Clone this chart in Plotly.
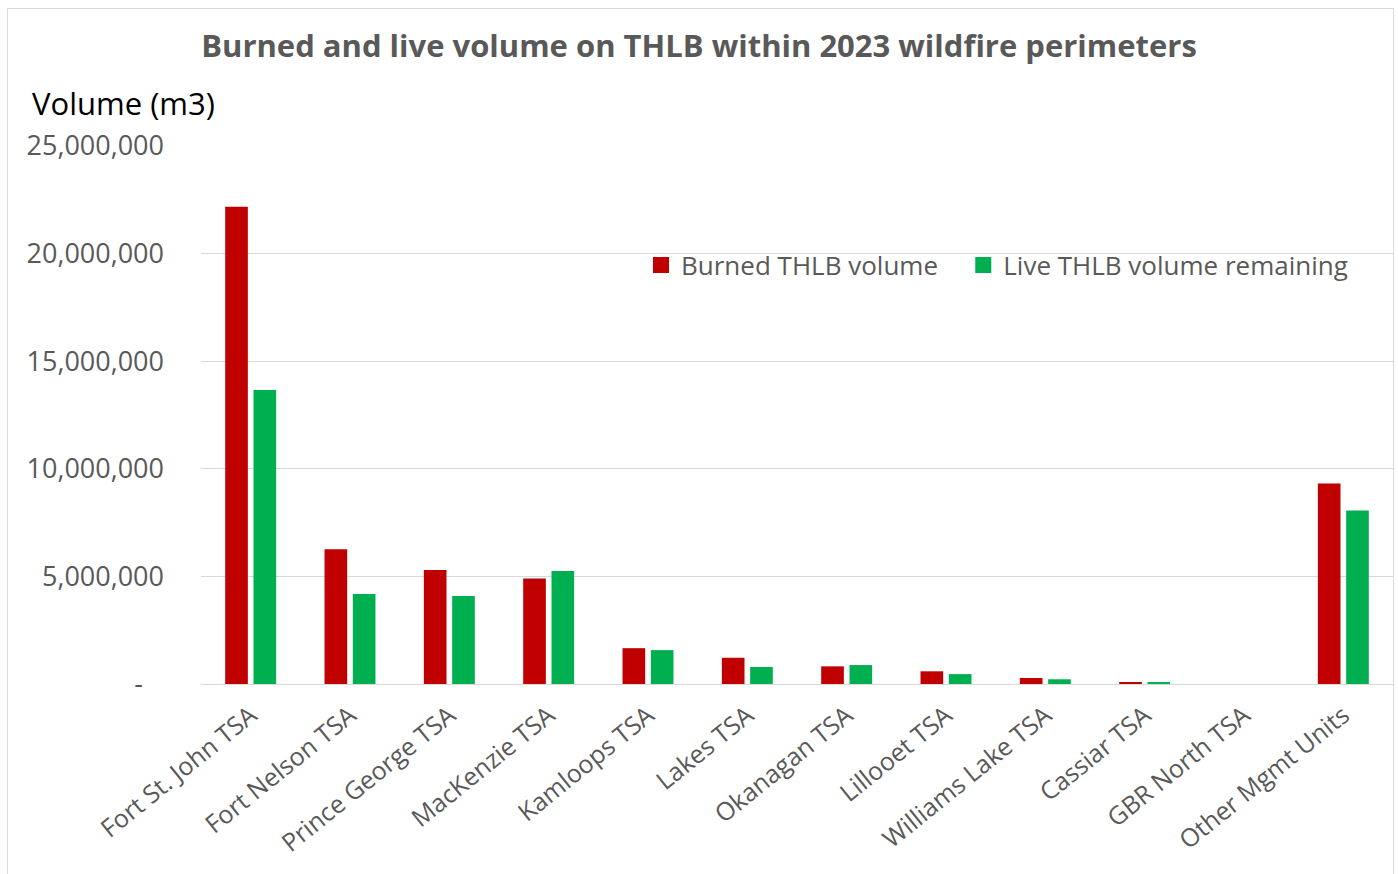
import plotly.graph_objects as go

# Timber supply areas / management units
units = [
    "Fort St. John TSA", "Fort Nelson TSA", "Prince George TSA", "MacKenzie TSA",
    "Kamloops TSA", "Lakes TSA", "Okanagan TSA", "Lillooet TSA",
    "Williams Lake TSA", "Cassiar TSA", "GBR North TSA", "Other Mgmt Units",
]

# Volumes in m3
burned = [22180000, 6260000, 5300000, 4900000, 1665000, 1220000,
          820000, 590000, 280000, 80000, 0, 9320000]
live = [13660000, 4180000, 4090000, 5250000, 1575000, 790000,
        880000, 460000, 220000, 90000, 0, 8060000]

y_ticks = [0, 5000000, 10000000, 15000000, 20000000, 25000000]
y_tick_text = ["-\u00a0\u00a0\u00a0", "5,000,000", "10,000,000", "15,000,000",
               "20,000,000", "25,000,000"]

RED = "#C00000"
GREEN = "#00B050"
GREY_TXT = "#595959"
GRID = "#D9D9D9"
FONT = "Open Sans"

W, H = 1398, 874
ML, MR, MT, MB = 201, 5, 146, 190
PW, PH = W - ML - MR, H - MT - MB

fig = go.Figure()
fig.add_trace(go.Bar(x=units, y=burned, name="Burned THLB volume",
                     marker=dict(color=RED, line=dict(width=0)),
                     showlegend=False))
fig.add_trace(go.Bar(x=units, y=live, name="Live THLB volume remaining",
                     marker=dict(color=GREEN, line=dict(width=0)),
                     showlegend=False))

# legend entries with square swatches
for nm, col in [("Burned THLB volume\u00a0\u00a0\u00a0", RED),
                ("Live THLB volume remaining", GREEN)]:
    fig.add_trace(go.Scatter(x=[None], y=[None], mode="markers", name=nm,
                             marker=dict(symbol="square", size=16, color=col)))

fig.update_layout(
    width=W, height=H,
    margin=dict(l=ML, r=MR, t=MT, b=MB, autoexpand=False),
    paper_bgcolor="white", plot_bgcolor="white",
    barmode="group", bargap=0.43, bargroupgap=0.2,
    font=dict(family=FONT, color=GREY_TXT),
    title=dict(text="<b>Burned and live volume on THLB within 2023 wildfire perimeters</b>",
               x=0.5, xref="container", xanchor="center",
               y=1 - 46 / H, yref="container", yanchor="middle",
               font=dict(family=FONT, size=31, color=GREY_TXT)),
    legend=dict(orientation="h", x=(641 - ML) / PW, xanchor="left",
                y=(684 - 265) / PH, yanchor="middle",
                font=dict(family=FONT, size=26, color=GREY_TXT),
                bgcolor="rgba(0,0,0,0)", itemwidth=30, tracegroupgap=0),
    xaxis=dict(tickangle=-39, tickfont=dict(family=FONT, size=25, color=GREY_TXT),
               showline=True, linecolor=GRID, linewidth=1, ticks="",
               showgrid=False, range=[-0.5, 11.5], automargin=False,
               ticklabelstandoff=6),
    yaxis=dict(range=[0, 25000000], tickvals=y_ticks, ticktext=y_tick_text,
               tickfont=dict(family=FONT, size=27, color=GREY_TXT),
               showgrid=True, gridcolor=GRID, gridwidth=1, zeroline=False,
               ticks="", ticklabelstandoff=36, automargin=False),
)

fig.add_annotation(text="Volume (m3)", xref="paper", yref="paper",
                   x=(30 - ML) / PW, xanchor="left",
                   y=(684 - 103) / PH, yanchor="middle",
                   showarrow=False, font=dict(family=FONT, size=31, color="black"))

# chart frame
fig.add_shape(type="rect", xref="paper", yref="paper",
              x0=(7.5 - ML) / PW, x1=(1393.5 - ML) / PW,
              y0=(684 - 900) / PH, y1=(684 - 8.5) / PH,
              line=dict(color=GRID, width=1), fillcolor="rgba(0,0,0,0)", layer="below")

fig.write_html("out.html")
